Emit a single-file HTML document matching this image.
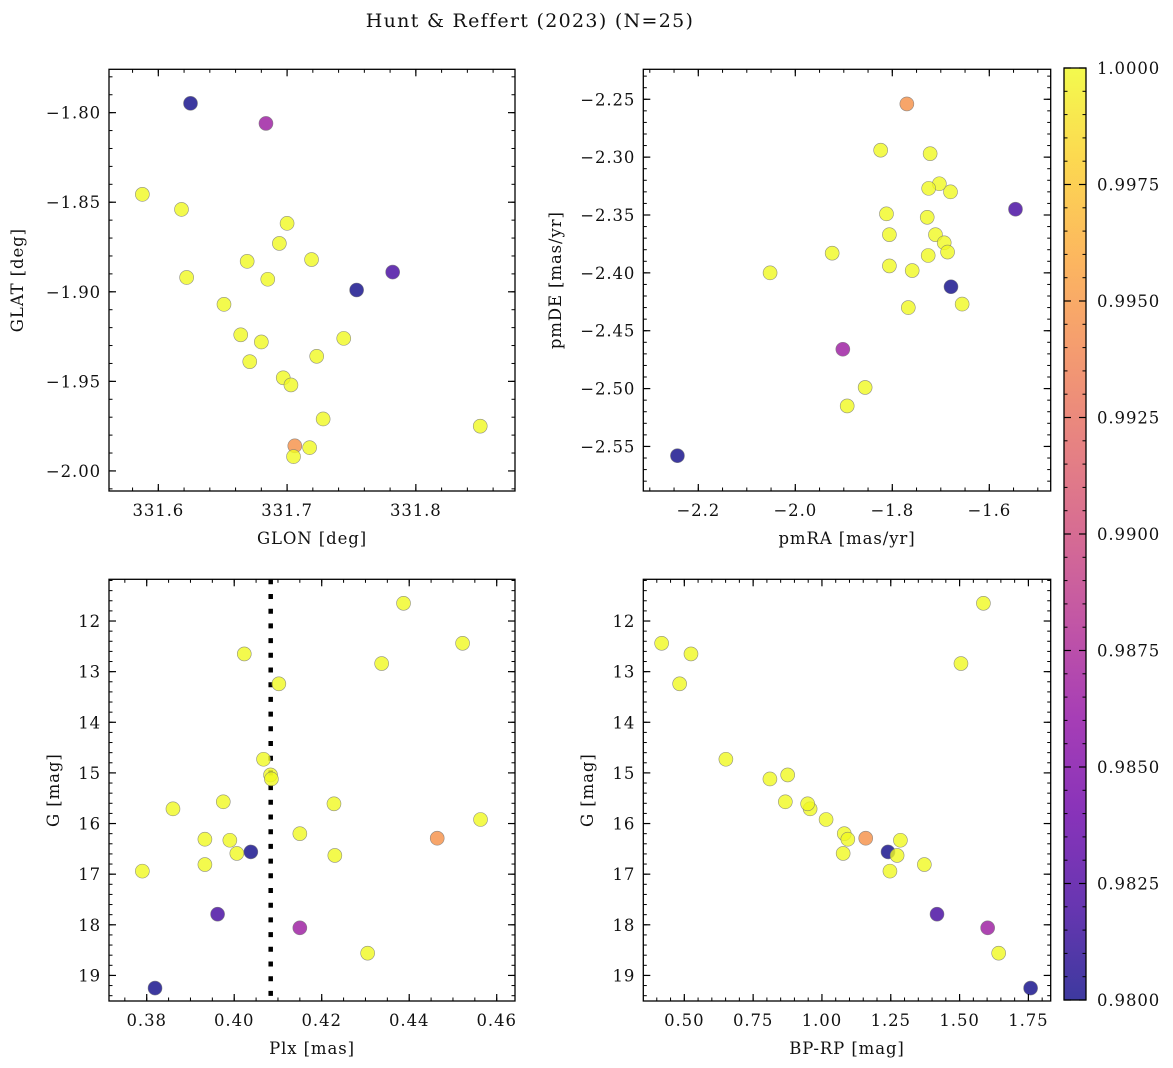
<!DOCTYPE html>
<html><head><meta charset="utf-8">
<style>
html,body{margin:0;padding:0;background:#fff;}
svg{display:block;font-family:"DejaVu Serif","Liberation Serif",serif;}
svg text{letter-spacing:0.9px;}
</style></head>
<body>
<svg id="fig" width="1173" height="1068" viewBox="0 0 1173 1068" xmlns="http://www.w3.org/2000/svg">
<text x="530" y="27" text-anchor="middle" font-size="19" fill="#111" style="letter-spacing:1.3px">Hunt &amp; Reffert (2023) (N=25)</text>
</svg>
<script>
// ---- Panel 1: GLON / GLAT ----
const p1_glon=[331.625,331.6836,331.5876,331.618,331.700,331.694,331.669,331.719,331.622,331.685,331.782,331.754,331.651,331.664,331.680,331.671,331.744,331.723,331.697,331.703,331.728,331.850,331.706,331.7175,331.705];
const p1_glat=[-1.7948,-1.806,-1.8456,-1.854,-1.8618,-1.873,-1.883,-1.882,-1.892,-1.893,-1.889,-1.899,-1.907,-1.924,-1.928,-1.939,-1.926,-1.936,-1.948,-1.952,-1.971,-1.975,-1.986,-1.987,-1.992];
const p1_prob=[0.980,0.9866,1,1,1,1,1,1,1,1,0.982,0.980,1,1,1,1,1,1,1,1,1,1,0.9946,1,1];
const p1_xticks=[331.6,331.7,331.8];
const p1_yticks=[-1.80,-1.85,-1.90,-1.95,-2.00];
// ---- Panel 2: pmRA / pmDE ----
const p2_pmra=[-1.770,-1.824,-1.722,-1.703,-1.725,-1.680,-1.546,-1.812,-1.728,-1.806,-1.711,-1.693,-1.686,-1.924,-1.726,-1.806,-1.759,-2.052,-1.679,-1.656,-1.767,-1.902,-1.856,-1.893,-2.243];
const p2_pmde=[-2.254,-2.294,-2.297,-2.323,-2.327,-2.330,-2.345,-2.349,-2.352,-2.367,-2.367,-2.374,-2.382,-2.383,-2.385,-2.394,-2.398,-2.400,-2.412,-2.427,-2.430,-2.466,-2.499,-2.515,-2.558];
const p2_prob=[0.9946,1,1,1,1,1,0.982,1,1,1,1,1,1,1,1,1,1,1,0.980,1,1,0.9866,1,1,0.980];
const p2_xticks=[-2.2,-2.0,-1.8,-1.6];
const p2_yticks=[-2.25,-2.30,-2.35,-2.40,-2.45,-2.50,-2.55];
// ---- Panel 3: Plx / G ----
const p3_plx=[0.4387,0.4522,0.4023,0.4337,0.4102,0.4067,0.4083,0.4085,0.3975,0.3860,0.4228,0.4563,0.4150,0.3933,0.3990,0.4464,0.4006,0.4038,0.4230,0.3933,0.3790,0.3962,0.4150,0.4305,0.3819];
const p3_g=[11.65,12.44,12.65,12.84,13.24,14.73,15.04,15.12,15.57,15.71,15.61,15.92,16.20,16.31,16.33,16.29,16.59,16.56,16.63,16.81,16.94,17.79,18.06,18.56,19.25];
const p3_prob=[1,1,1,1,1,1,1,1,1,1,1,1,1,1,1,0.9946,1,0.980,1,1,1,0.982,0.9866,1,0.980];
const p3_xticks=[0.38,0.40,0.42,0.44,0.46];
const p3_yticks=[12,13,14,15,16,17,18,19];
const p3_vline=[0.40834];
// ---- Panel 4: BP-RP / G ----
const p4_bprp=[0.4176,1.5865,0.5242,1.505,0.483,0.651,0.8755,0.811,0.867,0.957,0.948,1.015,1.081,1.159,1.094,1.285,1.240,1.077,1.273,1.372,1.247,1.418,1.602,1.642,1.758];
const p4_g=[12.44,11.65,12.65,12.84,13.24,14.73,15.04,15.12,15.57,15.71,15.61,15.92,16.20,16.29,16.31,16.33,16.56,16.59,16.63,16.81,16.94,17.79,18.06,18.56,19.25];
const p4_prob=[1,1,1,1,1,1,1,1,1,1,1,1,1,0.9946,1,1,0.980,1,1,1,1,0.982,0.9866,1,0.980];
const p4_xticks=[0.50,0.75,1.00,1.25,1.50,1.75];
const p4_yticks=[12,13,14,15,16,17,18,19];
// ---- Colorbar ----
const cb_ticks=[0.9800,0.9825,0.9850,0.9875,0.9900,0.9925,0.9950,0.9975,1.0000];

const NS="http://www.w3.org/2000/svg";
const svg=document.getElementById('fig');
function mk(tag,attrs,parent){const e=document.createElementNS(NS,tag);for(const k in attrs)e.setAttribute(k,attrs[k]);(parent||svg).appendChild(e);return e;}
const stops=[[0,"#0d0887"],[0.1,"#41049d"],[0.2,"#6a00a8"],[0.3,"#8f0da4"],[0.4,"#b12a90"],[0.5,"#cc4778"],[0.6,"#e16462"],[0.7,"#f2844b"],[0.8,"#fca636"],[0.9,"#fcce25"],[1,"#f0f921"]];
function hx(h){return [parseInt(h.substr(1,2),16),parseInt(h.substr(3,2),16),parseInt(h.substr(5,2),16)];}
function plasma(t){t=Math.max(0,Math.min(1,t));for(let i=0;i<stops.length-1;i++){const a=stops[i],b=stops[i+1];if(t<=b[0]){const f=(t-a[0])/(b[0]-a[0]);const ca=hx(a[1]),cb=hx(b[1]);return 'rgb('+ca.map((v,j)=>Math.round(v+(cb[j]-v)*f)).join(',')+')';}}return stops[stops.length-1][1];}
const VMIN=0.98,VMAX=1.0;

function panel(o){
  const g=mk('g',{});
  
  
  const sx=v=>o.L+(v-o.xlim[0])/(o.xlim[1]-o.xlim[0])*(o.R-o.L);
  const sy=o.invert?(v=>o.T+(v-o.ylim[0])/(o.ylim[1]-o.ylim[0])*(o.B-o.T)):(v=>o.B-(v-o.ylim[0])/(o.ylim[1]-o.ylim[0])*(o.B-o.T));
  if(o.vline){o.vline.forEach(v=>{const l=mk('line',{x1:sx(v),x2:sx(v),y1:o.T,y2:o.B,stroke:'#000','stroke-width':4.5,'stroke-dasharray':'5 9.7'},g);
    
    });}
  o.xs.forEach((x,i)=>{const c=mk('circle',{cx:sx(x),cy:sy(o.ys[i]),r:7,fill:plasma((o.pr[i]-VMIN)/(VMAX-VMIN)),'fill-opacity':0.8,stroke:'#777','stroke-opacity':0.8,'stroke-width':0.6},g);
    
    });
  const f=mk('rect',{x:o.L,y:o.T,width:o.R-o.L,height:o.B-o.T,fill:'none',stroke:'#000','stroke-width':1.3},g);
  
  
  const mxs=Math.ceil(o.xlim[0]/o.xminor-1e-9),mxe=Math.floor(o.xlim[1]/o.xminor+1e-9);
  for(let k=mxs;k<=mxe;k++){const X=sx(k*o.xminor);mk('line',{x1:X,x2:X,y1:o.B,y2:o.B-3.5,stroke:'#000','stroke-width':1},g);mk('line',{x1:X,x2:X,y1:o.T,y2:o.T+3.5,stroke:'#000','stroke-width':1},g);}
  const ylo=Math.min(o.ylim[0],o.ylim[1]),yhi=Math.max(o.ylim[0],o.ylim[1]);
  const mys=Math.ceil(ylo/o.yminor-1e-9),mye=Math.floor(yhi/o.yminor+1e-9);
  for(let k=mys;k<=mye;k++){const Y=sy(k*o.yminor);mk('line',{x1:o.L,x2:o.L+3.5,y1:Y,y2:Y,stroke:'#000','stroke-width':1},g);mk('line',{x1:o.R,x2:o.R-3.5,y1:Y,y2:Y,stroke:'#000','stroke-width':1},g);}
  o.xticks.forEach(v=>{const X=sx(v);mk('line',{x1:X,x2:X,y1:o.B,y2:o.B-7,stroke:'#000','stroke-width':1.2},g);mk('line',{x1:X,x2:X,y1:o.T,y2:o.T+7,stroke:'#000','stroke-width':1.2},g);
    const t=mk('text',{x:X,y:o.B+25,'text-anchor':'middle','font-size':16.5,fill:'#111'},g);t.textContent=v.toFixed(o.xdec).replace('-','\u2212');
    
    });
  o.yticks.forEach(v=>{const Y=sy(v);mk('line',{x1:o.L,x2:o.L+7,y1:Y,y2:Y,stroke:'#000','stroke-width':1.2},g);mk('line',{x1:o.R,x2:o.R-7,y1:Y,y2:Y,stroke:'#000','stroke-width':1.2},g);
    const t=mk('text',{x:o.L-8,y:Y+6,'text-anchor':'end','font-size':16.5,fill:'#111'},g);t.textContent=v.toFixed(o.ydec).replace('-','\u2212');
    
    });
  const xl=mk('text',{x:(o.L+o.R)/2,y:o.B+53,'text-anchor':'middle','font-size':16.5,fill:'#111'},g);xl.textContent=o.xlabel;
  
  
  const yl=mk('text',{x:0,y:0,'text-anchor':'middle','font-size':16.5,fill:'#111',transform:'translate('+o.ylx+','+((o.T+o.B)/2)+') rotate(-90)'},g);yl.textContent=o.ylabel;
  
  
}

panel({name:'panel-glon-glat',L:109,R:515,T:69.3,B:491,xlim:[331.5617,331.877],ylim:[-2.0112,-1.7758],xs:p1_glon,ys:p1_glat,pr:p1_prob,xticks:p1_xticks,yticks:p1_yticks,xminor:0.02,yminor:0.01,xdec:1,ydec:2,xlabel:'GLON [deg]',ylabel:'GLAT [deg]',ylx:23});
panel({name:'panel-proper-motion',L:643.3,R:1050.7,T:69.3,B:491,xlim:[-2.3134,-1.4734],ylim:[-2.5885,-2.2241],xs:p2_pmra,ys:p2_pmde,pr:p2_prob,xticks:p2_xticks,yticks:p2_yticks,xminor:0.05,yminor:0.01,xdec:1,ydec:2,xlabel:'pmRA [mas/yr]',ylabel:'pmDE [mas/yr]',ylx:561});
panel({name:'panel-plx-g',L:109,R:515,T:579.3,B:1001,xlim:[0.37138,0.46418],ylim:[11.176,19.505],invert:true,xs:p3_plx,ys:p3_g,pr:p3_prob,xticks:p3_xticks,yticks:p3_yticks,xminor:0.005,yminor:0.2,xdec:2,ydec:0,xlabel:'Plx [mas]',ylabel:'G [mag]',ylx:59,vline:p3_vline});
panel({name:'panel-cmd',L:643.3,R:1050.7,T:579.3,B:1001,xlim:[0.351,1.831],ylim:[11.176,19.505],invert:true,xs:p4_bprp,ys:p4_g,pr:p4_prob,xticks:p4_xticks,yticks:p4_yticks,xminor:0.05,yminor:0.2,xdec:2,ydec:0,xlabel:'BP-RP [mag]',ylabel:'G [mag]',ylx:593});

(function(){
  const L=1064,R=1086,T=68,B=1000;
  const defs=mk('defs',{});const lg=mk('linearGradient',{id:'cbg',x1:0,y1:1,x2:0,y2:0},defs);
  for(let i=0;i<=20;i++){mk('stop',{offset:i/20,'stop-color':plasma(i/20)},lg);}
  const g=mk('g',{});
  
  
  mk('rect',{x:L,y:T,width:R-L,height:B-T,fill:'url(#cbg)','fill-opacity':0.8},g);
  mk('rect',{x:L,y:T,width:R-L,height:B-T,fill:'none',stroke:'#000','stroke-width':1.3},g);
  const sy=v=>B-(v-VMIN)/(VMAX-VMIN)*(B-T);
  for(let k=0;k<=40;k++){const Y=sy(VMIN+k*0.0005);mk('line',{x1:R,x2:R-3.5,y1:Y,y2:Y,stroke:'#000','stroke-width':1},g);mk('line',{x1:L,x2:L+3.5,y1:Y,y2:Y,stroke:'#000','stroke-width':1},g);}
  cb_ticks.forEach(v=>{const Y=sy(v);mk('line',{x1:R,x2:R-7,y1:Y,y2:Y,stroke:'#000','stroke-width':1.2},g);mk('line',{x1:L,x2:L+7,y1:Y,y2:Y,stroke:'#000','stroke-width':1.2},g);
    const t=mk('text',{x:R+11,y:Y+6,'font-size':16.5,fill:'#111'},g);t.textContent=v.toFixed(4);
    
    });
})();
</script>
</body></html>
